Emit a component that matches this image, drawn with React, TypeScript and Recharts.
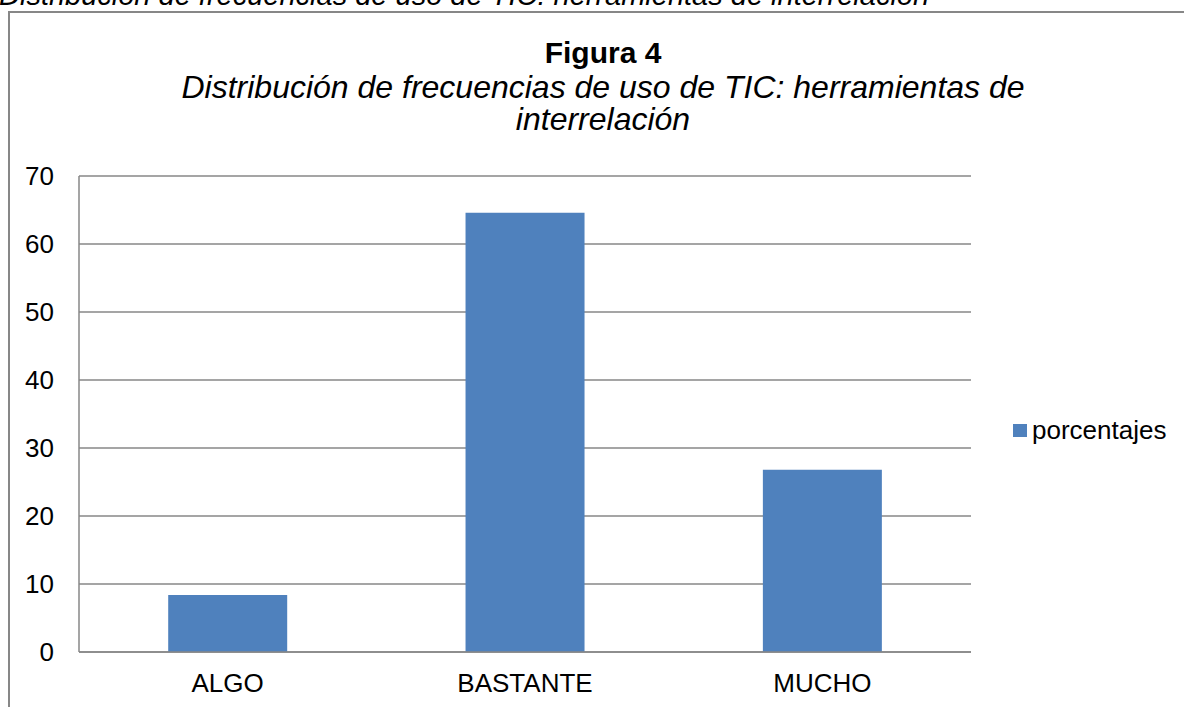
import { BarChart, Bar, XAxis, YAxis, CartesianGrid, Legend } from "recharts";

const categories = ["ALGO", "BASTANTE", "MUCHO"];
const porcentajes = [8.4, 64.6, 26.8];
const yTicks = [0, 10, 20, 30, 40, 50, 60, 70];
const seriesName = "porcentajes";

const caption = "Distribución de frecuencias de uso de  TIC: herramientas de interrelación";
const title = "Figura 4";
const subtitle = ["Distribución de frecuencias de uso de TIC: herramientas de", "interrelación"];

const data = categories.map((c, i) => ({ name: c, porcentajes: porcentajes[i] }));

const font = "'Liberation Sans', Arial, sans-serif";
const gray = "#878787";
const blue = "#4F81BD";

function LegendBox(props: any) {
  const items = props.payload || [];
  return (
    <div style={{ fontFamily: font, fontSize: 26, color: "#000" }}>
      {items.map((p: any) => (
        <div key={p.value} style={{ display: "flex", alignItems: "center" }}>
          <span style={{ width: 14, height: 13, background: blue, marginRight: 5, display: "inline-block" }} />
          <span>{p.value}</span>
        </div>
      ))}
    </div>
  );
}

export default function App() {
  return (
    <div style={{ position: "absolute", left: 0, top: 0, width: 1184, height: 707, overflow: "hidden", background: "#fff" }}>
      {/* frame of the chart, runs past the right and bottom edge */}
      <div style={{ position: "absolute", left: 8, top: 11, width: 1300, height: 800, border: `2px solid ${gray}` }} />

      <svg width={1184} height={707} style={{ position: "absolute", left: 0, top: 0 }}>
        <text x={-1} y={5} fontFamily={font} fontStyle="italic" fontSize={29} fill="#000">
          {caption}
        </text>
        <text x={603} y={63} textAnchor="middle" fontFamily={font} fontWeight="bold" fontSize={30} fill="#000">
          {title}
        </text>
        <text x={603} y={98} textAnchor="middle" fontFamily={font} fontStyle="italic" fontSize={32} fill="#000">
          {subtitle[0]}
        </text>
        <text x={603} y={130} textAnchor="middle" fontFamily={font} fontStyle="italic" fontSize={32} fill="#000">
          {subtitle[1]}
        </text>
      </svg>

      <div style={{ position: "absolute", left: 0, top: 0 }}>
        <BarChart
          width={1184}
          height={707}
          data={data}
          margin={{ top: 176, right: 213, bottom: 15, left: 19 }}
          barCategoryGap="30%"
        >
          <CartesianGrid vertical={false} stroke={gray} strokeWidth={1.5} />
          <XAxis
            dataKey="name"
            height={40}
            axisLine={{ stroke: gray, strokeWidth: 1.5 }}
            tickLine={false}
            tickSize={0}
            tickMargin={22}
            tick={{ fill: "#000", fontSize: 26, fontFamily: font }}
          />
          <YAxis
            width={60}
            domain={[0, 70]}
            ticks={yTicks}
            interval={0}
            axisLine={{ stroke: gray, strokeWidth: 1.5 }}
            tickLine={false}
            tickSize={0}
            tickMargin={25}
            tick={{ fill: "#000", fontSize: 26, fontFamily: font }}
          />
          <Legend
            layout="horizontal"
            align="center"
            verticalAlign="middle"
            wrapperStyle={{ left: 1013, top: 415, width: "auto" }}
            content={LegendBox}
          />
          <Bar dataKey="porcentajes" name={seriesName} fill={blue} isAnimationActive={false} />
        </BarChart>
      </div>
    </div>
  );
}
